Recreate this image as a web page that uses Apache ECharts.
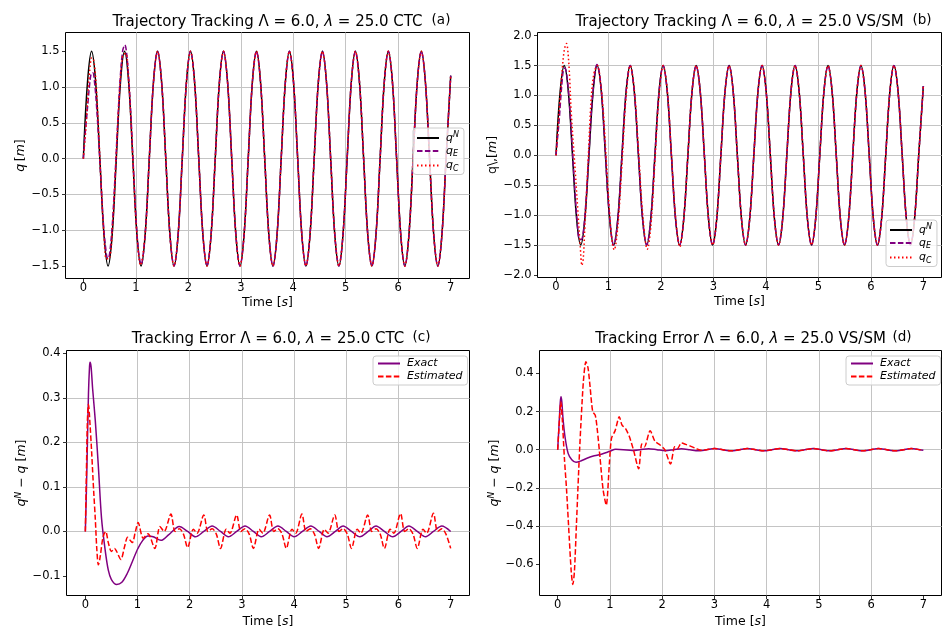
<!DOCTYPE html>
<html><head><meta charset="utf-8">
<script src="https://cdn.jsdelivr.net/npm/echarts@6.0.0/dist/echarts.min.js"></script>
<style>html,body{margin:0;padding:0;background:#fff}#c{width:942px;height:631px}</style>
</head><body><div id="c"></div>
<script>
// ---------- DATA ----------
// nominal trajectory q^N sampled times [s] and values [m]
const tNom = [0,0.0785,0.1571,0.2356,0.3142,0.3927,0.4712,0.5498,0.6283,0.7069,0.7854,0.8639,0.9425,1.0210,1.0996,1.1781,1.2566,1.3352,1.4137,1.4923,1.5708,1.6493,1.7279,1.8064,1.8850,1.9635,2.0420,2.1206,2.1991,2.2777,2.3562,2.4347,2.5133,2.5918,2.6704,2.7489,2.8274,2.9060,2.9845,3.0631,3.1416,3.2201,3.2987,3.3772,3.4558,3.5343,3.6128,3.6914,3.7699,3.8485,3.9270,4.0055,4.0841,4.1626,4.2412,4.3197,4.3982,4.4768,4.5553,4.6339,4.7124,4.7909,4.8695,4.9480,5.0265,5.1051,5.1836,5.2622,5.3407,5.4192,5.4978,5.5763,5.6549,5.7334,5.8119,5.8905,5.9690,6.0476,6.1261,6.2046,6.2832,6.3617,6.4403,6.5188,6.5973,6.6759,6.7544,6.8330,6.9115,7.0];
const qNom = [0,1.06,1.5,1.06,0,-1.06,-1.5,-1.06, 0,1.06,1.5,1.06,0,-1.06,-1.5,-1.06, 0,1.06,1.5,1.06,0,-1.06,-1.5,-1.06, 0,1.06,1.5,1.06,0,-1.06,-1.5,-1.06, 0,1.06,1.5,1.06,0,-1.06,-1.5,-1.06, 0,1.06,1.5,1.06,0,-1.06,-1.5,-1.06, 0,1.06,1.5,1.06,0,-1.06,-1.5,-1.06, 0,1.06,1.5,1.06,0,-1.06,-1.5,-1.06, 0,1.06,1.5,1.06,0,-1.06,-1.5,-1.06, 0,1.06,1.5,1.06,0,-1.06,-1.5,-1.06, 0,1.06,1.5,1.06,0,-1.06,-1.5,-1.06, 0,1.16];

// (a) CTC early transients of q_E and q_C  [t, q]
const qE_a_early = [[0,0],[0.03,0.31],[0.06,0.55],[0.09,0.8],[0.12,1.04],[0.15,1.19],[0.18,1.2],[0.21,1.09],[0.25,0.75],[0.31,0.03],[0.38,-0.88],[0.44,-1.34],[0.47,-1.4],[0.5,-1.33],[0.55,-0.94],[0.6,-0.3],[0.65,0.44],[0.7,1.1],[0.75,1.51],[0.79,1.59],[0.84,1.36],[0.9,0.69],[0.95,-0.06],[1.0,-0.78],[1.05,-1.29],[1.1,-1.48],[1.18,-1.03]];
const qC_a_early = [[0,0],[0.02,0.17],[0.04,0.33],[0.06,0.56],[0.09,0.94],[0.12,1.22],[0.16,1.41],[0.19,1.39],[0.22,1.25],[0.25,0.97],[0.28,0.56],[0.34,-0.37],[0.39,-1.03],[0.44,-1.4],[0.5,-1.39],[0.56,-0.91],[0.6,-0.37],[0.68,0.81],[0.75,1.44],[0.81,1.47],[0.86,1.12],[0.9,0.64],[0.96,-0.26],[1.01,-0.95],[1.09,-1.49],[1.18,-1.04]];

// (b) VS/SM early transients of q_E and q_C
const qE_b_early = [[0,0],[0.03,0.29],[0.064,0.62],[0.09,0.95],[0.12,1.27],[0.14,1.41],[0.17,1.46],[0.2,1.38],[0.24,1.05],[0.27,0.69],[0.31,0.12],[0.35,-0.46],[0.4,-1.07],[0.45,-1.41],[0.5,-1.39],[0.56,-0.9],[0.63,0.07],[0.7,1.02],[0.78,1.52],[0.85,1.22],[0.93,0.2],[1.0,-0.81],[1.0996,-1.5]];
const qC_b_early = [[0,0],[0.04,0.5],[0.08,1.0],[0.12,1.45],[0.16,1.77],[0.2,1.87],[0.23,1.7],[0.26,1.3],[0.29,0.72],[0.356,-0.13],[0.42,-0.97],[0.46,-1.5],[0.495,-1.84],[0.52,-1.72],[0.547,-1.25],[0.61,-0.13],[0.673,0.98],[0.73,1.4],[0.79,1.5],[0.85,1.2],[0.9,0.75],[0.96,-0.1],[1.02,-0.95],[1.07,-1.45],[1.11,-1.58],[1.15,-1.42],[1.2,-0.95],[1.2566,-0.15],[1.3352,0.98],[1.4137,1.5],[1.4923,1.1],[1.5708,0.1],[1.6493,-0.95],[1.74,-1.57],[1.8064,-1.2],[1.885,-0.1],[1.9635,1.0],[2.042,1.5],[2.1206,1.08],[2.1991,0.03],[2.2777,-1.02],[2.36,-1.53]];

// (c) CTC tracking error
const eEx_c = [[0,0],[0.02,0.09],[0.04,0.2],[0.06,0.31],[0.08,0.37],[0.09,0.38],[0.11,0.37],[0.14,0.32],[0.19,0.25],[0.25,0.145],[0.31,0.03],[0.38,-0.042],[0.44,-0.087],[0.5,-0.108],[0.6,-0.119],[0.7,-0.114],[0.8,-0.095],[0.9,-0.068],[1.0,-0.04],[1.1,-0.02],[1.2,-0.01],[1.3,-0.012],[1.45,-0.02],[1.6,-0.007],[1.8,0.011],[1.96,0],[2.11,-0.012],[2.27,0],[2.43,0.012],[2.59,0],[2.74,-0.012],[2.9,0],[3.06,0.012],[3.22,0],[3.37,-0.012],[3.53,0],[3.69,0.012],[3.85,0],[4.0,-0.012],[4.16,0],[4.32,0.012],[4.48,0],[4.63,-0.012],[4.79,0],[4.94,0.012],[5.1,0],[5.26,-0.012],[5.42,0],[5.57,0.012],[5.73,0],[5.89,-0.012],[6.05,0],[6.2,0.012],[6.36,0],[6.52,-0.012],[6.67,0],[6.83,0.012],[7.0,0]];
const eEs_c = [[0,0],[0.02,0.13],[0.04,0.25],[0.06,0.285],[0.09,0.24],[0.12,0.18],[0.16,0.09],[0.19,0.03],[0.22,-0.04],[0.25,-0.075],[0.28,-0.06],[0.34,-0.012],[0.39,0.0],[0.44,-0.025],[0.5,-0.045],[0.56,-0.038],[0.6,-0.045],[0.68,-0.063],[0.75,-0.035],[0.81,-0.013],[0.86,-0.02],[0.9,-0.025],[0.96,0.0],[1.01,0.02],[1.11,-0.015],[1.2,-0.005],[1.33,-0.038],[1.43,0.011],[1.51,0.0],[1.64,0.039],[1.72,0.0],[1.8,0.006],[1.88,-0.006],[1.96,-0.036],[2.07,0.005],[2.14,-0.004],[2.27,0.037],[2.35,0],[2.43,0.006],[2.51,-0.006],[2.59,-0.038],[2.7,0.005],[2.77,-0.004],[2.9,0.037],[2.98,0],[3.06,0.006],[3.14,-0.006],[3.22,-0.038],[3.33,0.005],[3.4,-0.004],[3.53,0.037],[3.61,0],[3.69,0.006],[3.77,-0.006],[3.85,-0.038],[3.96,0.005],[4.03,-0.004],[4.15,0.039],[4.23,0],[4.31,0.006],[4.39,-0.006],[4.47,-0.038],[4.58,0.005],[4.65,-0.004],[4.78,0.037],[4.86,0],[4.94,0.006],[5.02,-0.006],[5.1,-0.038],[5.21,0.005],[5.28,-0.004],[5.41,0.037],[5.49,0],[5.57,0.006],[5.65,-0.006],[5.73,-0.038],[5.84,0.005],[5.91,-0.004],[6.04,0.04],[6.12,0],[6.2,0.006],[6.28,-0.006],[6.36,-0.038],[6.47,0.005],[6.54,-0.004],[6.67,0.041],[6.75,0],[6.83,0.006],[6.91,-0.006],[7.0,-0.038]];

// (d) VS/SM tracking error
const eEx_d_early = [[0,0],[0.03,0.15],[0.05,0.25],[0.064,0.277],[0.08,0.25],[0.1,0.17],[0.14,0.068],[0.2,-0.019],[0.27,-0.052],[0.35,-0.066],[0.45,-0.058],[0.56,-0.045],[0.7,-0.032],[0.85,-0.022],[1.0,-0.008],[1.11,0.002],[1.26,0.0],[1.43,-0.004],[1.58,0],[1.74,0.005],[1.9,0],[2.06,-0.005],[2.22,0],[2.37,0.005],[2.53,0],[2.69,-0.006]];
const eEs_d_early = [[0,0],[0.03,0.14],[0.06,0.25],[0.09,0.15],[0.13,-0.05],[0.17,-0.21],[0.22,-0.455],[0.26,-0.64],[0.29,-0.705],[0.32,-0.64],[0.36,-0.385],[0.42,0.0],[0.49,0.35],[0.54,0.46],[0.58,0.43],[0.62,0.33],[0.67,0.2],[0.72,0.18],[0.76,0.1],[0.81,-0.04],[0.87,-0.21],[0.93,-0.29],[0.99,-0.07],[1.03,0.06],[1.1,0.1],[1.18,0.173],[1.23,0.13],[1.3,0.11],[1.37,0.07],[1.45,0.0],[1.55,-0.1],[1.61,0.03],[1.66,0.015],[1.77,0.1],[1.86,0.045],[1.96,0.025],[2.05,0.0],[2.16,-0.075],[2.24,0.015],[2.29,0.005],[2.37,0.035],[2.45,0.028],[2.53,0.02],[2.66,0.005],[2.75,-0.003]];
const eTail_d = [[2.85,0],[3.0,0.006],[3.16,0],[3.32,-0.006],[3.48,0],[3.63,0.006],[3.79,0],[3.95,-0.006],[4.1,0],[4.26,0.006],[4.42,0],[4.58,-0.006],[4.73,0],[4.89,0.006],[5.05,0],[5.2,-0.006],[5.36,0],[5.52,0.006],[5.68,0],[5.83,-0.006],[5.99,0],[6.14,0.006],[6.3,0],[6.46,-0.006],[6.62,0],[6.77,0.006],[6.93,0],[7.0,-0.003]];

const xTicks = [0,1,2,3,4,5,6,7];
const yTicksA = [-1.5,-1.0,-0.5,0,0.5,1.0,1.5];
const yTicksB = [-2.0,-1.5,-1.0,-0.5,0,0.5,1.0,1.5,2.0];
const yTicksC = [-0.1,0,0.1,0.2,0.3,0.4];
const yTicksD = [-0.6,-0.4,-0.2,0,0.2,0.4];

// ---------- BUILD ----------
const F = 'DejaVu Sans';
const PURPLE = '#800080', RED = '#ff0000', BLACK = '#000000';
const DASH = [5.5, 2.4], DOT = [1.5, 2.5];
const TICK_FS = 11.5;
const nomPairs = tNom.map((t, i) => [t, qNom[i]]);
function withTail(early, tail) {
  const last = early[early.length - 1][0];
  return early.concat(tail.filter(p => p[0] > last + 1e-9));
}
function fmt(step, dec) {
  return v => {
    const r = Math.round(v / step) * step;
    if (Math.abs(v - r) > 1e-6) return '';
    return (r < -1e-9 ? '\u2212' : '') + Math.abs(r).toFixed(dec);
  };
}
function rich(sz) {
  const lh = Math.round(sz * 1.3);
  return {
    i: {fontFamily: F, fontSize: sz, fontStyle: 'italic', color: '#000', fill: '#000', lineHeight: lh},
    u: {fontFamily: F, fontSize: sz, color: '#000', fill: '#000', lineHeight: lh},
    sup: {fontFamily: F, fontSize: Math.round(sz * 0.7), fontStyle: 'italic', color: '#000', fill: '#000', verticalAlign: 'top', lineHeight: Math.round(sz * 0.75)},
    sub: {fontFamily: F, fontSize: Math.round(sz * 0.7), fontStyle: 'italic', color: '#000', fill: '#000', verticalAlign: 'bottom', lineHeight: Math.round(sz * 0.75)}
  };
}
const gridBase = {show: true, borderColor: '#000', borderWidth: 1, backgroundColor: 'transparent', containLabel: false, outerBoundsMode: 'none'};
const grids = [
  Object.assign({left: 65.5, top: 32.5, width: 404, height: 246}, gridBase),
  Object.assign({left: 537.5, top: 32.5, width: 404, height: 245}, gridBase),
  Object.assign({left: 66.5, top: 350.5, width: 403, height: 245}, gridBase),
  Object.assign({left: 539.5, top: 350.5, width: 402, height: 245}, gridBase)
];
const splitLineStyle = {show: true, showMinLine: false, showMaxLine: false, lineStyle: {color: '#c4c4c4', width: 1}};
function xAx(gi, min, max, gap) {
  return {
    type: 'value', gridIndex: gi, min, max, splitNumber: 8,
    name: 'Time [{i|s}]', nameLocation: 'middle', nameGap: gap,
    nameTextStyle: {fontFamily: F, fontSize: 12.5, color: '#000', rich: rich(12.5)},
    axisLine: {show: false, onZero: false},
    axisTick: {show: true, length: 3.5, customValues: xTicks, lineStyle: {color: '#000', width: 0.8}},
    axisLabel: {fontFamily: F, fontSize: TICK_FS, color: '#000', margin: 4, customValues: xTicks, formatter: fmt(1, 0)},
    splitLine: splitLineStyle
  };
}
function yAx(gi, min, max, split, step, ticks, name, gap) {
  return {
    type: 'value', gridIndex: gi, min, max, splitNumber: split,
    name, nameLocation: 'middle', nameGap: gap, nameRotate: 90,
    nameTextStyle: {fontFamily: F, fontSize: 12.5, color: '#000', rich: rich(12.5)},
    axisLine: {show: false, onZero: false},
    axisTick: {show: true, length: 3.5, customValues: ticks, lineStyle: {color: '#000', width: 0.8}},
    axisLabel: {fontFamily: F, fontSize: TICK_FS, color: '#000', margin: 6, customValues: ticks, formatter: fmt(step, 1)},
    splitLine: splitLineStyle
  };
}
function line(name, xi, data, color, type, smooth) {
  return {
    name, type: 'line', xAxisIndex: xi, yAxisIndex: xi, data, smooth, symbol: 'none',
    lineStyle: {color, width: 1.5, type}, itemStyle: {color}, animation: false, clip: true
  };
}
const LABELS = {
  qN: '{i|q}{sup|N}', qE: '{i|q}{sub|E}', qC: '{i|q}{sub|C}',
  ex: '{i|Exact}', es: '{i|Estimated}'
};
function legend(names, left, top, pad, gap) {
  return {
    data: names, left, top, orient: 'vertical', padding: pad, itemGap: gap,
    itemWidth: 22, itemHeight: 11,
    backgroundColor: 'rgba(255,255,255,0.8)', borderColor: '#cccccc', borderWidth: 1, borderRadius: 3,
    itemStyle: {opacity: 0},
    textStyle: {fontFamily: F, fontSize: 11, color: '#000', padding: [0, 0, 0, 2], rich: rich(11)},
    formatter: n => LABELS[n.split('_')[0]],
    selectedMode: false
  };
}
const titleRich = {
  i: {fontFamily: F, fontSize: 15, fontStyle: 'italic', fill: '#000', color: '#000'}
};
function titleText(x, y, text) {
  return {type: 'text', x, y, silent: true,
    style: {text, rich: titleRich, fontFamily: F, fontSize: 15, fill: '#000', align: 'center', verticalAlign: 'middle'}};
}
function tagText(x, y, text) {
  return {type: 'text', x, y, silent: true,
    style: {text, fontFamily: F, fontSize: 13.5, fill: '#000', align: 'center', verticalAlign: 'middle'}};
}

const option = {
  backgroundColor: '#ffffff',
  animation: false,
  grid: grids,
  xAxis: [
    xAx(0, -0.340, 7.358, 16),
    xAx(1, -0.3525, 7.346, 16),
    xAx(2, -0.361, 7.361, 18),
    xAx(3, -0.348, 7.347, 18)
  ],
  yAxis: [
    yAx(0, -1.675, 1.763, 7, 0.5, yTicksA, '{i|q}\u2009[{i|m}]', 37),
    yAx(1, -2.042, 2.053, 8, 0.5, yTicksB, 'q\\,[{i|m}]', 36),
    yAx(2, -0.1438, 0.4064, 5, 0.1, yTicksC, '{i|q}{sup|N} \u2212 {i|q} [{i|m}]', 35),
    yAx(3, -0.7632, 0.5195, 6, 0.2, yTicksD, '{i|q}{sup|N} \u2212 {i|q} [{i|m}]', 35)
  ],
  legend: [
    legend(['qN_a', 'qE_a', 'qC_a'], 413, 128, [3, 5, 2, 3], 2),
    legend(['qN_b', 'qE_b', 'qC_b'], 886, 220, [3, 5, 2, 3], 2),
    legend(['ex_c', 'es_c'], 373, 356, [2, 5, 3, 4], 2),
    legend(['ex_d', 'es_d'], 846, 356, [2, 5, 3, 4], 2)
  ],
  series: [
    line('qN_a', 0, nomPairs, BLACK, 'solid', 0.35),
    line('qE_a', 0, withTail(qE_a_early, nomPairs), PURPLE, DASH, 0.35),
    line('qC_a', 0, withTail(qC_a_early, nomPairs), RED, DOT, 0.35),
    line('qN_b', 1, nomPairs, BLACK, 'solid', 0.35),
    line('qE_b', 1, withTail(qE_b_early, nomPairs), PURPLE, DASH, 0.35),
    line('qC_b', 1, withTail(qC_b_early, nomPairs), RED, DOT, 0.35),
    line('ex_c', 2, eEx_c, PURPLE, 'solid', 0.3),
    line('es_c', 2, eEs_c, RED, DASH, 0.3),
    line('ex_d', 3, eEx_d_early.concat(eTail_d), PURPLE, 'solid', 0.3),
    line('es_d', 3, eEs_d_early.concat(eTail_d), RED, DASH, 0.25)
  ],
  graphic: [
    titleText(267.5, 22.4, 'Trajectory Tracking \u039B = 6.0, {i|\u03BB} = 25.0 CTC'),
    tagText(441, 20.2, '(a)'),
    titleText(739.5, 22.4, 'Trajectory Tracking \u039B = 6.0, {i|\u03BB} = 25.0 VS/SM'),
    tagText(922, 20.2, '(b)'),
    titleText(268, 339.5, 'Tracking Error \u039B = 6.0, {i|\u03BB} = 25.0 CTC'),
    tagText(421.5, 337.7, '(c)'),
    titleText(740.5, 339.5, 'Tracking Error \u039B = 6.0, {i|\u03BB} = 25.0 VS/SM'),
    tagText(902, 337.7, '(d)')
  ]
};
const chart = echarts.init(document.getElementById('c'), null, {renderer: 'canvas'});
chart.setOption(option);
</script>
</body></html>
